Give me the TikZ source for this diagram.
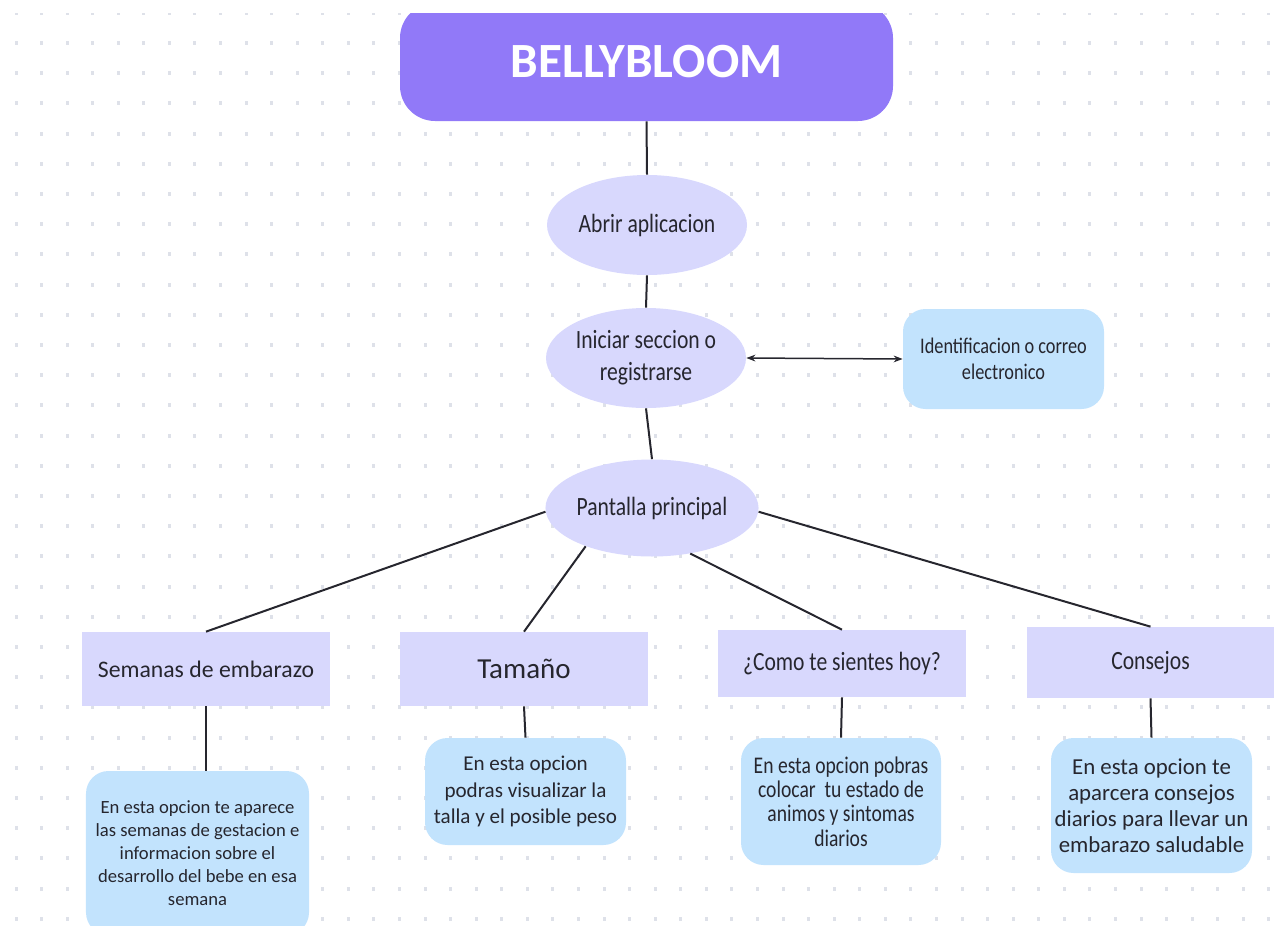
\documentclass[tikz,border=0pt]{standalone}
\usepackage{fontspec}
\setmainfont{Carlito}
\newfontfamily\narrowfont[FakeStretch=0.82]{Carlito}
\usetikzlibrary{shapes.geometric,arrows.meta}

\definecolor{titlepurple}{RGB}{145,121,248}
\definecolor{lavender}{RGB}{216,216,253}
\definecolor{skyblue}{RGB}{194,227,253}
\definecolor{dotgray}{RGB}{222,225,233}
\definecolor{inkgray}{RGB}{38,38,46}

\begin{document}
\begin{tikzpicture}[x=0.2mm, y=-0.2mm,
			titlebox/.style={rectangle, rounded corners=7mm, fill=titlepurple, text=white, minimum width=98.6mm, minimum height=23.6mm, font=\fontsize{28}{30}\selectfont\bfseries},
			stepnode/.style={ellipse, fill=lavender, inner sep=0pt, minimum width=40mm, minimum height=20mm, align=center, text=inkgray, font=\narrowfont\fontsize{15}{18}\selectfont},
			optionbox/.style={rectangle, fill=lavender, inner sep=0pt, minimum width=49.6mm, minimum height=14.8mm, align=center, text=inkgray, font=\narrowfont\fontsize{15}{17}\selectfont},
			infobox/.style={rectangle, rounded corners=4.5mm, fill=skyblue, inner sep=0pt, minimum width=40.2mm, align=center, text=inkgray, font=\narrowfont\fontsize{13}{14}\selectfont},
			link/.style={draw=inkgray, line width=0.4mm},
		]
		
			\useasboundingbox (0,0) rectangle (1282,925);
			\begin{scope}
			\clip (0,14) rectangle (1282,925);
			
			%Dotted background
			\foreach \i in {0,...,49}
				\foreach \j in {0,...,30}
					\fill[dotgray] ({14.5+25.57*\i},{10.8+30.2*\j}) rectangle ++(3,4);
			
			%Nodes
			\node[titlebox]		(bellybloom)	at (646.5,62)	{BELLYBLOOM};
			\node[stepnode]		(abrir)		at (647,225)	{Abrir aplicacion};
			\node[stepnode]		(iniciar)	at (646,358)	{Iniciar seccion o\\registrarse};
			\node[infobox, minimum height=20mm, font=\narrowfont\fontsize{12.7}{14.5}\selectfont]
								(correo)	at (1003.5,359)	{Identificacion o correo\\electronico};
			\node[stepnode, minimum height=19.4mm]
								(pantalla)	at (652,508)	{Pantalla principal};
			
			\node[optionbox, font=\fontsize{13.5}{16}\selectfont]
								(semanas)	at (206,669)	{Semanas de embarazo};
			\node[optionbox, font=\fontsize{16.5}{18}\selectfont]
								(tamano)	at (524,669)	{Tamaño};
			\node[optionbox, minimum height=13.4mm]
								(sientes)	at (842,663.5)	{¿Como te sientes hoy?};
			\node[optionbox, minimum width=49.4mm, minimum height=14.2mm]
								(consejos)	at (1150.5,662.5)	{Consejos};
			
			\node[infobox, minimum width=44.6mm, minimum height=32.8mm, font=\fontsize{10.6}{13}\selectfont]
								(info1)		at (197.5,853)	{En esta opcion te aparece\\las semanas de gestacion e\\informacion sobre el\\desarrollo del bebe en esa\\semana};
			\node[infobox, minimum height=21.4mm, font=\fontsize{12}{15.3}\selectfont]
								(info2)		at (525.5,791.5)	{En esta opcion\\podras visualizar la\\talla y el posible peso};
			\node[infobox, minimum width=40mm, minimum height=25.4mm, font=\narrowfont\fontsize{13.6}{13.8}\selectfont]
								(info3)		at (841,801.5)	{En esta opcion pobras\\colocar\ \ tu estado de\\animos y sintomas\\diarios};
			\node[infobox, minimum height=27mm, font=\fontsize{13}{14.8}\selectfont]
								(info4)		at (1151.5,805.5)	{En esta opcion te\\aparcera consejos\\diarios para llevar un\\embarazo saludable};
			
			%Lines
			\draw[link]	(bellybloom.south) -- (abrir.north);
			\draw[link]	(abrir.south) -- (iniciar.north);
			\draw[link]	(iniciar.south) -- (pantalla.north);
			\draw[link, {Stealth[length=1.8mm]}-{Stealth[length=1.8mm]}, line width=0.3mm]	(iniciar.east) -- (correo.west);
			
			\draw[link]	(pantalla.182) -- (semanas.north);
			\draw[link]	(pantalla.-150) -- (tamano.north);
			\draw[link]	(pantalla.-50) -- (sientes.north);
			\draw[link]	(pantalla.-2) -- (consejos.north);
			
			\draw[link]	(semanas.south) -- (semanas.south |- info1.north);
			\draw[link]	(tamano.south) -- (info2.north);
			\draw[link]	(sientes.south) -- (info3.north);
			\draw[link]	(consejos.south) -- (info4.north);
			\end{scope}
		
		\end{tikzpicture}
\end{document}
